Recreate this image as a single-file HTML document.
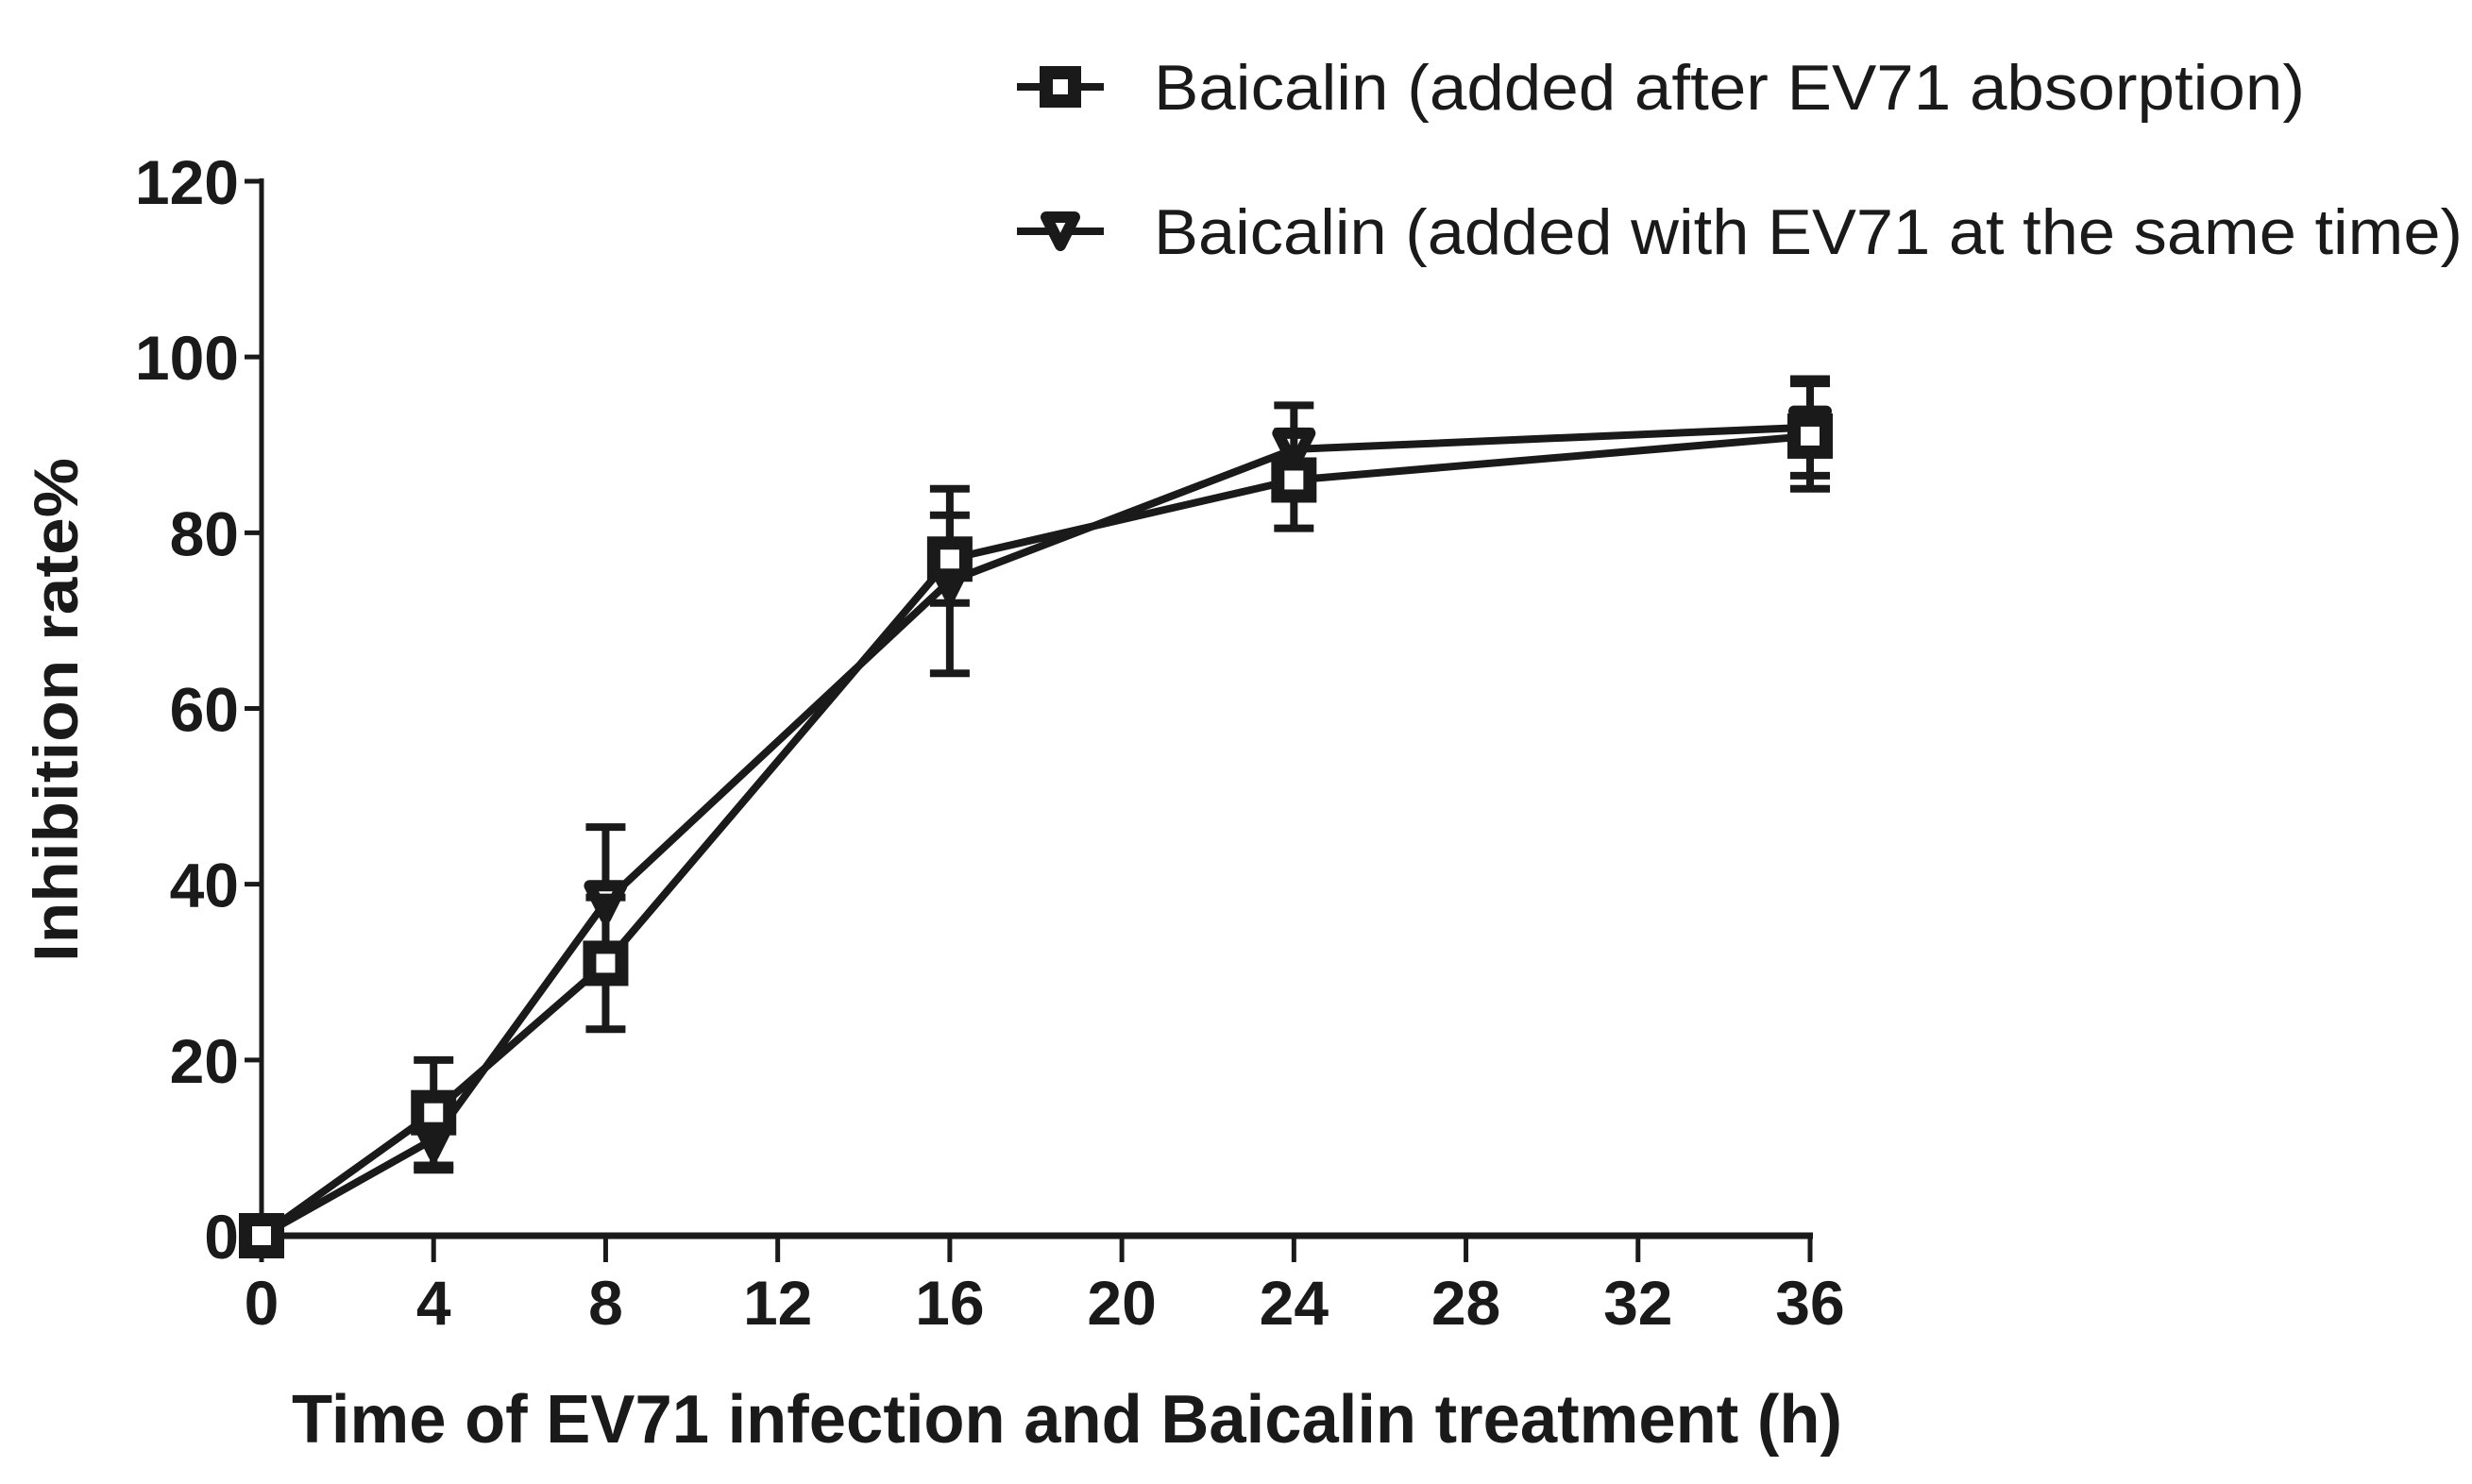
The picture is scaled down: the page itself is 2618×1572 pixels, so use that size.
<!DOCTYPE html>
<html><head><meta charset="utf-8"><style>
html,body{margin:0;padding:0;background:#fff;}
svg{display:block;}
</style></head><body>
<svg id="chart" width="2618" height="1572" viewBox="0 0 2618 1572" xmlns="http://www.w3.org/2000/svg">
<g id="axes"></g>
<g id="series"></g>
<g id="legend"></g>
<text x="309" y="1528" textLength="1642" lengthAdjust="spacingAndGlyphs" font-family="Liberation Sans, sans-serif" font-weight="bold" font-size="72" fill="#1a1a1a">Time of EV71 infection and Baicalin treatment (h)</text>
<text transform="translate(82,1019) rotate(-90)" x="0" y="0" textLength="534" lengthAdjust="spacingAndGlyphs" font-family="Liberation Sans, sans-serif" font-weight="bold" font-size="66" fill="#1a1a1a">Inhibition rate%</text>
</svg>
<script>
const xTicks = [0,4,8,12,16,20,24,28,32,36];
const yTicks = [0,20,40,60,80,100,120];
const times = [0,4,8,16,24,36];
const afterVals = [0,14,31,77,86,91];
const afterErr = [0,6,7.5,5,5.5,6];
const withVals = [0,11,38,74.5,89.5,92];
const withErr = [0,3.5,8.5,10.5,5,5.5];

const X0=277,X1=1917,Y0=1309,Y1=192;
const sx=v=>X0+(v-0)/(36-0)*(X1-X0);
const sy=v=>Y0-(v-0)/(120-0)*(Y0-Y1);
const NS='http://www.w3.org/2000/svg';
const C='#1a1a1a';
function mk(tag,attrs,parent){const e=document.createElementNS(NS,tag);for(const k in attrs)e.setAttribute(k,attrs[k]);parent.appendChild(e);return e;}
const axes=document.getElementById('axes');
let el=mk('line',{x1:X0,y1:Y0,x2:X1+3,y2:Y0,stroke:C,'stroke-width':7},axes);


el=mk('line',{x1:X0,y1:Y0+3,x2:X0,y2:Y1-3,stroke:C,'stroke-width':5},axes);


xTicks.forEach(t=>{
  const x=sx(t);
  let tk=mk('line',{x1:x,y1:Y0,x2:x,y2:Y0+28,stroke:C,'stroke-width':5},axes);
  
  
  let lb=mk('text',{x:x,y:Y0+94,'text-anchor':'middle','font-family':'Liberation Sans, sans-serif','font-weight':'bold','font-size':66,fill:C},axes);
  lb.textContent=t;
  
  
});
yTicks.forEach(t=>{
  const y=sy(t);
  let tk=mk('line',{x1:X0-18,y1:y,x2:X0,y2:y,stroke:C,'stroke-width':5},axes);
  
  
  let lb=mk('text',{x:X0-24,y:y+24,'text-anchor':'end','font-family':'Liberation Sans, sans-serif','font-weight':'bold','font-size':66,fill:C},axes);
  lb.textContent=t;
  
  
});
const series=document.getElementById('series');
function square(g,x,y,s){return mk('rect',{x:x-s/2,y:y-s/2,width:s,height:s,fill:'#fff',stroke:C,'stroke-width':14},g);}
function tri(g,x,y,s){return mk('polygon',{points:`${x-s/2},${y-s/2} ${x+s/2},${y-s/2} ${x},${y+s/2}`,fill:'#fff',stroke:C,'stroke-width':12,'stroke-linejoin':'round'},g);}
function drawSeries(name,vals,errs,marker){
  const g=mk('g',{},series);
  
  
  const pts=times.map((t,i)=>sx(t)+','+sy(vals[i])).join(' ');
  let pl=mk('polyline',{points:pts,fill:'none',stroke:C,'stroke-width':8,'stroke-linejoin':'round'},g);
  
  
  times.forEach((t,i)=>{
    const x=sx(t),yt=sy(vals[i]+errs[i]),yb=sy(vals[i]-errs[i]);
    if(errs[i]>0){
      let eb=mk('path',{d:`M${x},${yt}V${yb}M${x-21},${yt}H${x+21}M${x-21},${yb}H${x+21}`,stroke:C,'stroke-width':8,fill:'none'},g);
      
      
    }
    const m=marker(g,x,sy(vals[i]),34);
    
    
  });
}
drawSeries('series-with',withVals,withErr,tri);
drawSeries('series-after',afterVals,afterErr,square);

const legend=document.getElementById('legend');
const entries=[['Baicalin (added after EV71 absorption)',92,square,1219],['Baicalin (added with EV71 at the same time)',245,tri,1386]];
entries.forEach(([label,y,mf,len],i)=>{
  const g=mk('g',{},legend);
  
  
  mk('line',{x1:1077,y1:y,x2:1169,y2:y,stroke:C,'stroke-width':8},g);
  mf(g,1123,y,30);
  const t=mk('text',{x:1222,y:y+24,textLength:len,lengthAdjust:'spacingAndGlyphs','font-family':'Liberation Sans, sans-serif','font-size':68,fill:C},g);
  t.textContent=label;
  
  
});
</script>
</body></html>
